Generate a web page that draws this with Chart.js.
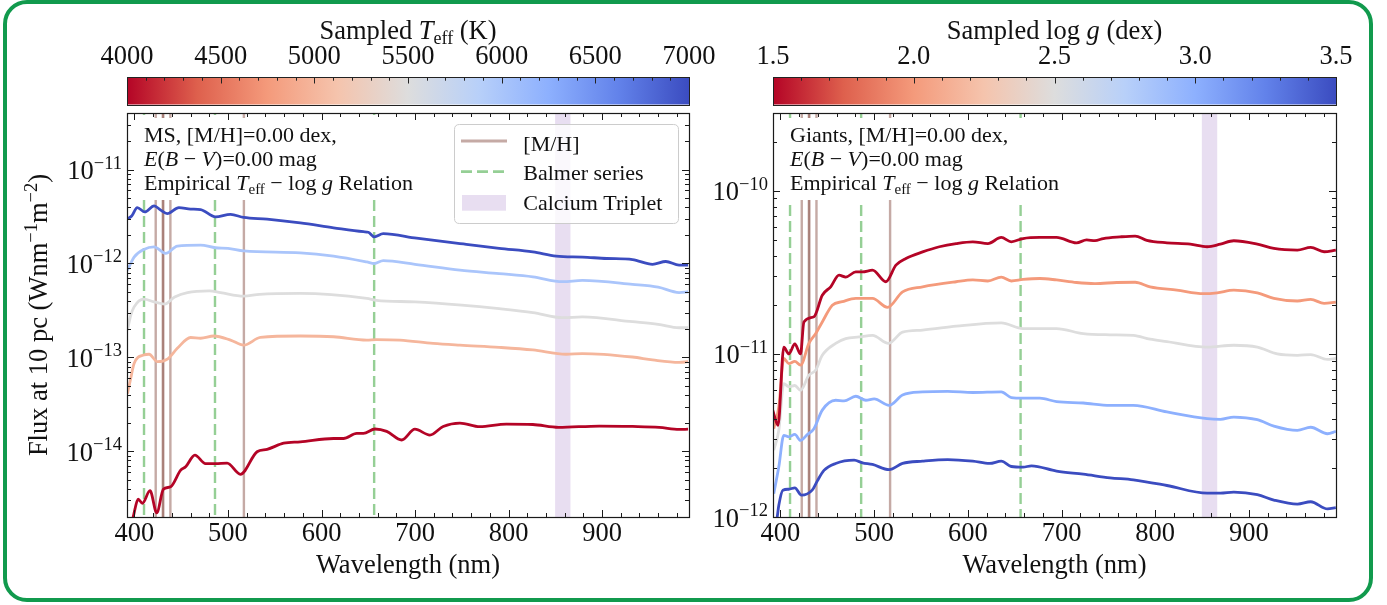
<!DOCTYPE html>
<html>
<head>
<meta charset="utf-8">
<script src="https://cdn.jsdelivr.net/npm/chart.js@4.4.1/dist/chart.umd.min.js"></script>
<style>
  html, body { margin: 0; padding: 0; background: #ffffff; }
  #fig { position: relative; width: 1387px; height: 605px; overflow: hidden; background: #ffffff; }
  #fig canvas { position: absolute; left: 0; top: 0; }
  #frame { position: absolute; left: 3px; top: 0; width: 1370px; height: 602px; box-sizing: border-box;
           border: 4px solid #119a4d; border-radius: 24px; pointer-events: none; }
</style>
</head>
<body>
<div id="fig">
  <canvas id="msChart" width="1387" height="605"></canvas>
  <canvas id="giantChart" width="1387" height="605"></canvas>
  <div id="frame"></div>
</div>
<script>
// ---------------------------------------------------------------
// Data
// ---------------------------------------------------------------
const wavelengthRange = [392, 993];
const wavelengthTicks = [400, 500, 600, 700, 800, 900];

// spectral feature markers (nm)
const metalLines = [422.7, 430.3, 430.8, 438.4, 517.0];
const balmerLines = [410.2, 486.1, 656.3];
const caTriplet = [849.8, 866.2];

// main-sequence panel: effective temperature of each spectrum (K)
const msTeff = [7000, 6000, 5500, 5000, 4000];
const teffTicks = [4000, 4500, 5000, 5500, 6000, 6500, 7000];
const msFluxRange = [2e-15, 4e-11];

// [wavelength (nm), flux (W nm^-1 m^-2)]
const msT7000 = [[392.5,3.0e-12],[397,3.2e-12],[403,3.94e-12],[411,3.54e-12],[421,4.1e-12],[428,3.7e-12],[435,3.4e-12],[447.5,3.94e-12],[460,3.8e-12],[470.7,3.75e-12],[486.7,3.13e-12],[502.7,3.34e-12],[516.8,3.09e-12],[541.8,2.96e-12],[577.3,2.7e-12],[612.9,2.4e-12],[644.8,2.18e-12],[650,2.15e-12],[656.5,1.92e-12],[666,2.08e-12],[701.7,1.86e-12],[748,1.63e-12],[754.8,1.6e-12],[790,1.45e-12],[826,1.33e-12],[851,1.2e-12],[879.3,1.17e-12],[905,1.13e-12],[932.6,1.1e-12],[954,0.98e-12],[968.2,1.05e-12],[982.4,0.96e-12],[992,0.96e-12]];
const msT6000 = [[392.5,8.5e-13],[396,1.0e-12],[399.6,1.17e-12],[410,1.41e-12],[421,1.5e-12],[433.4,1.28e-12],[445.8,1.53e-12],[470.7,1.57e-12],[486.7,1.47e-12],[500,1.45e-12],[516.8,1.36e-12],[577.3,1.3e-12],[612.9,1.2e-12],[648.4,1.04e-12],[656.5,1.0e-12],[666,1.07e-12],[700,0.98e-12],[748,8.5e-13],[790,7.8e-13],[826,7.2e-13],[858,6.4e-13],[879,6.6e-13],[932.6,6.0e-13],[960,5.6e-13],[982.4,4.9e-13],[992,5.0e-13]];
const msT5500 = [[392.5,1.95e-13],[396,2.8e-13],[399.6,3.45e-13],[410,4.17e-13],[421,3.9e-13],[432.3,3.69e-13],[443,4.4e-13],[456.7,4.9e-13],[480,5.1e-13],[492,4.9e-13],[516.8,4.5e-13],[533.8,4.7e-13],[577.3,4.8e-13],[648.4,4.24e-13],[658.8,4.05e-13],[700,3.9e-13],[750,3.6e-13],[790,3.3e-13],[826,3.0e-13],[858,2.65e-13],[879,2.7e-13],[932.6,2.4e-13],[960,2.25e-13],[982.4,2.07e-13],[992,2.07e-13]];
const msT5000 = [[392.5,4.1e-14],[396,6.0e-14],[399.6,8.6e-14],[410,1.06e-13],[415.6,1.08e-13],[424.5,9.0e-14],[435.2,9.6e-14],[445.8,1.25e-13],[460,1.63e-13],[470.7,1.6e-13],[484.9,1.69e-13],[502.7,1.53e-13],[516.8,1.35e-13],[534.6,1.63e-13],[577.3,1.69e-13],[612.9,1.66e-13],[648.4,1.53e-13],[658.8,1.55e-13],[683.9,1.53e-13],[719.4,1.41e-13],[748,1.35e-13],[790,1.28e-13],[826,1.2e-13],[861.6,1.08e-13],[879,1.1e-13],[932.6,1.01e-13],[954,9.4e-14],[982.4,8.85e-14],[992,9.0e-14]];
const msT4000 = [[392.5,1.2e-15],[398.6,2.0e-15],[403.9,3.09e-15],[408.5,2.8e-15],[416.6,3.81e-15],[423.8,2.22e-15],[430.9,3.94e-15],[438.7,4.2e-15],[449.4,6.3e-15],[454.7,6.85e-15],[464.6,9.1e-15],[476,7.4e-15],[486.7,7.4e-15],[499.1,7.5e-15],[513.3,5.7e-15],[531.1,9.9e-15],[541.8,1.05e-14],[559.5,1.22e-14],[577.3,1.26e-14],[612.9,1.37e-14],[623.5,1.37e-14],[637.7,1.55e-14],[644.8,1.55e-14],[657.2,1.73e-14],[669.7,1.63e-14],[685.7,1.32e-14],[699.9,1.72e-14],[715.9,1.49e-14],[730.1,1.84e-14],[748,2.0e-14],[769.2,1.83e-14],[797.7,1.95e-14],[826,1.93e-14],[853.6,1.8e-14],[897.1,1.86e-14],[932.6,1.84e-14],[961.1,1.8e-14],[982.4,1.71e-14],[992,1.72e-14]];

// giant panel: surface gravity of each spectrum (dex)
const giantLogg = [1.5, 2.0, 2.5, 3.0, 3.5];
const loggTicks = [1.5, 2.0, 2.5, 3.0, 3.5];
const giantFluxRange = [1e-12, 3e-10];

const gLogg15 = [[391.7,4.52e-12],[397.4,3.65e-12],[403.5,1.1e-11],[408.9,1.0e-11],[415.3,1.15e-11],[421.4,1.0e-11],[425,1.57e-11],[435.7,1.69e-11],[444.6,2.29e-11],[453.6,2.58e-11],[462.5,3.04e-11],[469.6,2.96e-11],[480.4,3.18e-11],[487.5,3.18e-11],[498.2,3.26e-11],[512.5,2.77e-11],[523.2,3.5e-11],[533.9,3.85e-11],[551.7,4.22e-11],[569.6,4.54e-11],[587.5,4.75e-11],[605.3,4.87e-11],[621.4,4.75e-11],[635.7,5.18e-11],[646.4,4.87e-11],[658.9,5.1e-11],[676.8,5.18e-11],[694.7,5.18e-11],[716,4.8e-11],[726.8,5.0e-11],[735.7,4.95e-11],[744.6,5.1e-11],[762.5,5.22e-11],[778.6,5.28e-11],[791,4.97e-11],[812.5,4.8e-11],[837.5,4.71e-11],[855.4,4.54e-11],[869.6,4.71e-11],[883.9,4.94e-11],[909,4.71e-11],[926.7,4.43e-11],[951.8,4.33e-11],[966,4.5e-11],[980.3,4.23e-11],[992.8,4.33e-11]];
const gLogg20 = [[392.8,3.48e-12],[398.2,4.73e-12],[403.5,9.37e-12],[408.9,8.73e-12],[415.3,9.0e-12],[421.4,8.53e-12],[430.3,1.16e-11],[437.5,1.33e-11],[444.6,1.57e-11],[455.3,1.99e-11],[466,2.09e-11],[480.4,2.19e-11],[498.2,2.19e-11],[514.2,1.93e-11],[530.3,2.4e-11],[551.7,2.58e-11],[587.5,2.77e-11],[605.3,2.84e-11],[621.4,2.8e-11],[635.7,2.96e-11],[646.4,2.8e-11],[658.9,2.86e-11],[676.8,2.9e-11],[694.7,2.84e-11],[716,2.74e-11],[735.7,2.7e-11],[759,2.74e-11],[778.6,2.75e-11],[794.5,2.58e-11],[823.1,2.46e-11],[851.7,2.34e-11],[866.1,2.37e-11],[883.9,2.46e-11],[909,2.37e-11],[926.7,2.19e-11],[951.8,2.11e-11],[966,2.16e-11],[980.3,2.04e-11],[992.8,2.08e-11]];
const gLogg25 = [[392.8,2.57e-12],[398.2,3.4e-12],[403.5,6.58e-12],[408.9,6.3e-12],[415.3,6.4e-12],[421.4,5.98e-12],[430.3,7.41e-12],[437.5,7.94e-12],[444.6,9.8e-12],[458.9,1.16e-11],[469.6,1.24e-11],[483.9,1.27e-11],[498.2,1.3e-11],[515.3,1.16e-11],[530.3,1.36e-11],[551.7,1.4e-11],[587.5,1.48e-11],[635.7,1.55e-11],[658.9,1.43e-11],[694.7,1.43e-11],[723.2,1.33e-11],[751.8,1.31e-11],[776.7,1.3e-11],[794.5,1.23e-11],[812.5,1.19e-11],[855.4,1.1e-11],[883.9,1.13e-11],[909,1.1e-11],[930.3,1.0e-11],[951.8,9.8e-12],[966,9.9e-12],[983.9,9.25e-12],[992.8,9.4e-12]];
const gLogg30 = [[392.8,1.39e-12],[398.2,2.03e-12],[403.5,3.17e-12],[408.9,3.1e-12],[415.3,3.21e-12],[421.4,2.95e-12],[428.6,3.2e-12],[435.7,3.48e-12],[444.6,4.52e-12],[458.9,5.2e-12],[467.9,5.15e-12],[480.4,5.5e-12],[491.1,5.2e-12],[500,5.3e-12],[516,4.84e-12],[530.3,5.6e-12],[551.7,5.85e-12],[578.5,5.9e-12],[605.3,5.8e-12],[635.7,5.85e-12],[646.4,5.4e-12],[658.9,5.35e-12],[676.8,5.35e-12],[694.7,5.1e-12],[723.2,5.0e-12],[751.8,4.84e-12],[776.7,4.84e-12],[812.5,4.41e-12],[855.4,4.01e-12],[869.6,3.97e-12],[883.9,4.1e-12],[909,3.95e-12],[926.7,3.61e-12],[951.8,3.4e-12],[966,3.55e-12],[983.9,3.24e-12],[992.8,3.35e-12]];
const gLogg35 = [[394,8.0e-13],[396.5,1.0e-12],[398.2,1.18e-12],[402.5,1.46e-12],[408.9,1.48e-12],[415.3,1.51e-12],[422.4,1.36e-12],[433.8,1.46e-12],[439.2,1.66e-12],[446.4,1.93e-12],[458.9,2.13e-12],[478.6,2.23e-12],[487.5,2.15e-12],[498.2,2.1e-12],[516,1.95e-12],[530.3,2.13e-12],[551.7,2.2e-12],[578.5,2.25e-12],[605.3,2.2e-12],[623.2,2.13e-12],[635.7,2.2e-12],[646.4,2.04e-12],[658.9,2.02e-12],[667.9,2.06e-12],[694.7,1.91e-12],[723.2,1.83e-12],[751.8,1.74e-12],[776.7,1.69e-12],[812.5,1.56e-12],[855.4,1.4e-12],[869.6,1.4e-12],[883.9,1.42e-12],[909,1.37e-12],[926.7,1.27e-12],[951.8,1.2e-12],[966,1.24e-12],[983.9,1.12e-12],[992.8,1.14e-12]];

// ---------------------------------------------------------------
// Styling helpers
// ---------------------------------------------------------------
const FONT = '"Liberation Serif", "Times New Roman", serif';
const INK = '#111111';
Chart.defaults.font.family = FONT;
Chart.defaults.color = INK;

const AXIS_FS = 26.5;
const SCRIPT_FS = 18.5;
const SMALL_FS = 22;

// matplotlib "coolwarm" anchor colours (blue -> red)
const coolwarm = [
  [0.0, [59, 76, 192]], [0.125, [98, 130, 234]], [0.25, [141, 176, 254]],
  [0.375, [184, 208, 249]], [0.5, [221, 221, 221]], [0.625, [245, 196, 173]],
  [0.75, [244, 154, 123]], [0.875, [222, 96, 77]], [1.0, [180, 4, 38]]
];
// reversed map: low values red, high values blue
function coolwarmR(f) {
  const t = 1 - Math.min(1, Math.max(0, f));
  for (let i = 1; i < coolwarm.length; i++) {
    const [t0, c0] = coolwarm[i - 1];
    const [t1, c1] = coolwarm[i];
    if (t <= t1 + 1e-9) {
      const w = (t - t0) / (t1 - t0);
      return 'rgb(' + c0.map((c, k) => Math.round(c + (c1[k] - c) * w)).join(',') + ')';
    }
  }
  return 'rgb(180,4,38)';
}

const METAL_COLOR = 'rgba(140, 86, 75, 0.5)';
const BALMER_COLOR = 'rgba(44, 160, 44, 0.5)';
const CA_COLOR = 'rgba(148, 103, 189, 0.22)';
const BALMER_DASH = [11, 5];

function fontOf(seg, base) {
  return (seg.it ? 'italic ' : '') + (seg.size || base) + 'px ' + FONT;
}
function richWidth(ctx, segs, base) {
  let w = 0;
  for (const s of segs) { ctx.font = fontOf(s, base); w += ctx.measureText(s.t).width; }
  return w;
}
function drawRich(ctx, segs, x, y, base, align) {
  const w = richWidth(ctx, segs, base);
  let cx = align === 'center' ? x - w / 2 : (align === 'right' ? x - w : x);
  ctx.textAlign = 'left';
  ctx.textBaseline = 'alphabetic';
  for (const s of segs) {
    ctx.font = fontOf(s, base);
    ctx.fillText(s.t, cx, y + (s.dy || 0));
    cx += ctx.measureText(s.t).width;
  }
}
function roundRect(ctx, x, y, w, h, r) {
  ctx.beginPath();
  ctx.moveTo(x + r, y);
  ctx.lineTo(x + w - r, y); ctx.quadraticCurveTo(x + w, y, x + w, y + r);
  ctx.lineTo(x + w, y + h - r); ctx.quadraticCurveTo(x + w, y + h, x + w - r, y + h);
  ctx.lineTo(x + r, y + h); ctx.quadraticCurveTo(x, y + h, x, y + h - r);
  ctx.lineTo(x, y + r); ctx.quadraticCurveTo(x, y, x + r, y);
  ctx.closePath();
}
const crisp = v => Math.round(v) + 0.5;

// ---------------------------------------------------------------
// One panel: spectra, feature markers, colour bar, annotations
// ---------------------------------------------------------------
function makePanel(canvasId, p) {
  const W = 1387, H = 605;
  const plotTop = 113, plotBottom = 517;

  const datasets = [];
  p.curves.forEach((c) => {
    datasets.push({
      data: c.data.map(([x, y]) => ({ x, y })),
      borderColor: coolwarmR((c.value - p.cbMin) / (p.cbMax - p.cbMin)),
      borderWidth: 2.8,
      pointRadius: 0,
      cubicInterpolationMode: 'monotone',
      clip: 0,
      order: 0,
      xAxisID: 'x', yAxisID: 'y'
    });
  });
  const vline = (wl, color, dash) => ({
    data: [{ x: wl, y: p.yRange[0] / 10 }, { x: wl, y: p.yRange[1] * 10 }],
    borderColor: color, borderWidth: 2.4, borderDash: dash || [],
    pointRadius: 0, clip: 0, order: 1, xAxisID: 'x', yAxisID: 'y'
  });
  metalLines.forEach(wl => datasets.push(vline(wl, METAL_COLOR)));
  balmerLines.forEach(wl => datasets.push(vline(wl, BALMER_COLOR, BALMER_DASH)));

  const panelPlugin = {
    id: 'panelDecor',
    beforeDatasetsDraw(chart) {
      const { ctx, chartArea: a, scales } = chart;
      const x0 = scales.x.getPixelForValue(caTriplet[0]);
      const x1 = scales.x.getPixelForValue(caTriplet[1]);
      ctx.save();
      ctx.fillStyle = CA_COLOR;
      ctx.fillRect(x0, a.top, x1 - x0, a.bottom - a.top);
      ctx.restore();
    },
    afterDatasetsDraw(chart) {
      const { ctx, chartArea: a, scales } = chart;
      const xs = scales.x, ys = scales.y, cb = scales.cb;
      ctx.save();

      // annotation block with opaque background
      ctx.fillStyle = '#ffffff';
      ctx.fillRect(a.left + 10, a.top + 5, p.boxWidth, 82);
      ctx.fillStyle = INK;
      const tx = a.left + 17;
      drawRich(ctx, [{ t: p.sampleName + ', [M/H]=0.00 dex,' }], tx, a.top + 28.7, SMALL_FS, 'left');
      drawRich(ctx, [{ t: 'E', it: true }, { t: '(' }, { t: 'B', it: true }, { t: ' − ' },
                     { t: 'V', it: true }, { t: ')=0.00 mag' }], tx, a.top + 53, SMALL_FS, 'left');
      drawRich(ctx, [{ t: 'Empirical ' }, { t: 'T', it: true }, { t: 'eff', size: 15, dy: 3.5 },
                     { t: ' − log ' }, { t: 'g', it: true }, { t: ' Relation' }], tx, a.top + 77.3, SMALL_FS, 'left');

      // legend
      if (p.legend) {
        const lx = a.right - 235, ly = a.top + 11, lw = 224, lh = 99;
        roundRect(ctx, lx + 0.5, ly + 0.5, lw, lh, 5);
        ctx.fillStyle = 'rgba(255,255,255,0.8)';
        ctx.fill();
        ctx.strokeStyle = '#cccccc'; ctx.lineWidth = 1; ctx.stroke();

        ctx.lineWidth = 2.8;
        ctx.strokeStyle = METAL_COLOR;
        ctx.beginPath(); ctx.moveTo(lx + 7, ly + 17); ctx.lineTo(lx + 53, ly + 17); ctx.stroke();
        ctx.strokeStyle = BALMER_COLOR; ctx.setLineDash(BALMER_DASH);
        ctx.beginPath(); ctx.moveTo(lx + 7, ly + 47.7); ctx.lineTo(lx + 53, ly + 47.7); ctx.stroke();
        ctx.setLineDash([]);
        ctx.fillStyle = CA_COLOR;
        ctx.fillRect(lx + 8, ly + 71, 44, 15.7);

        ctx.fillStyle = INK;
        drawRich(ctx, [{ t: '[M/H]' }], lx + 69.3, ly + 26.7, SMALL_FS, 'left');
        drawRich(ctx, [{ t: 'Balmer series' }], lx + 69.3, ly + 56, SMALL_FS, 'left');
        drawRich(ctx, [{ t: 'Calcium Triplet' }], lx + 69.3, ly + 86, SMALL_FS, 'left');
      }

      // axes frame
      ctx.strokeStyle = '#1a1a1a'; ctx.lineWidth = 1.2;
      ctx.strokeRect(crisp(a.left) , crisp(a.top), Math.round(a.right - a.left), Math.round(a.bottom - a.top));

      // inward tick marks on all four sides
      ctx.lineWidth = 1; ctx.strokeStyle = '#1a1a1a';
      ctx.beginPath();
      const xTick = (v, len) => {
        const px = crisp(xs.getPixelForValue(v));
        ctx.moveTo(px, a.bottom); ctx.lineTo(px, a.bottom - len);
        ctx.moveTo(px, a.top); ctx.lineTo(px, a.top + len);
      };
      const yTick = (v, len) => {
        const py = crisp(ys.getPixelForValue(v));
        ctx.moveTo(a.left, py); ctx.lineTo(a.left + len, py);
        ctx.moveTo(a.right, py); ctx.lineTo(a.right - len, py);
      };
      for (let v = 400; v <= wavelengthRange[1]; v += 20) xTick(v, v % 100 === 0 ? 7 : 4);
      const eLo = Math.floor(Math.log10(p.yRange[0])), eHi = Math.ceil(Math.log10(p.yRange[1]));
      for (let e = eLo; e <= eHi; e++) {
        for (let m = 1; m <= 9; m++) {
          const v = m * Math.pow(10, e);
          if (v < p.yRange[0] * 0.999 || v > p.yRange[1] * 1.001) continue;
          yTick(v, m === 1 ? 7 : 4);
        }
      }
      ctx.stroke();

      // decade labels on the flux axis
      ctx.fillStyle = INK;
      for (let e = eLo; e <= eHi; e++) {
        const v = Math.pow(10, e);
        if (v < p.yRange[0] * 0.999 || v > p.yRange[1] * 1.001) continue;
        const py = ys.getPixelForValue(v);
        drawRich(ctx, [{ t: '10', dy: 9.5 }, { t: '−' + Math.abs(e), size: SCRIPT_FS, dy: -1 }],
                 a.left - 5, py, AXIS_FS, 'right');
      }

      // flux axis title
      if (p.yTitle) {
        ctx.save();
        ctx.translate(47, (a.top + a.bottom) / 2);
        ctx.rotate(-Math.PI / 2);
        drawRich(ctx, [{ t: 'Flux at 10 pc (Wnm' }, { t: '−1', size: SCRIPT_FS, dy: -10 }, { t: 'm' },
                       { t: '−2', size: SCRIPT_FS, dy: -10 }, { t: ')' }], 0, 0, AXIS_FS, 'center');
        ctx.restore();
      }

      // colour bar
      const cbTop = a.top - 36, cbH = 27.5;
      const grad = ctx.createLinearGradient(cb.left, 0, cb.right, 0);
      coolwarm.forEach(([t, c]) => grad.addColorStop(1 - t, 'rgb(' + c.join(',') + ')'));
      ctx.fillStyle = grad;
      ctx.fillRect(cb.left, cbTop, cb.right - cb.left, cbH);
      ctx.strokeStyle = '#222222'; ctx.lineWidth = 1;
      ctx.strokeRect(crisp(cb.left), crisp(cbTop), Math.round(cb.right - cb.left), Math.round(cbH));
      ctx.beginPath();
      const nMinor = Math.round((p.cbMax - p.cbMin) / p.cbMinorStep);
      for (let i = 0; i <= nMinor; i++) {
        const v = p.cbMin + i * p.cbMinorStep;
        const px = crisp(cb.getPixelForValue(v));
        const major = i % p.cbMajorEvery === 0;
        ctx.moveTo(px, cbTop); ctx.lineTo(px, cbTop + (major ? 6.5 : 3.7));
      }
      ctx.stroke();

      // colour bar title
      ctx.fillStyle = INK;
      drawRich(ctx, p.cbTitle, (cb.left + cb.right) / 2, 39, AXIS_FS, 'center');

      ctx.restore();
    }
  };

  return new Chart(document.getElementById(canvasId), {
    type: 'line',
    data: { datasets },
    plugins: [panelPlugin],
    options: {
      responsive: false,
      animation: false,
      devicePixelRatio: 1,
      events: [],
      layout: { padding: { left: 0, top: 0, bottom: 0, right: W - p.plotRight } },
      plugins: { legend: { display: false }, tooltip: { enabled: false } },
      scales: {
        x: {
          type: 'linear', position: 'bottom', axis: 'x',
          min: wavelengthRange[0], max: wavelengthRange[1],
          afterBuildTicks: s => { s.ticks = wavelengthTicks.map(v => ({ value: v })); },
          afterFit: s => { s.height = H - plotBottom; },
          ticks: { font: { size: AXIS_FS }, padding: 1, maxRotation: 0, autoSkip: false, color: INK,
                   callback: v => String(v) },
          grid: { display: false, drawTicks: false },
          border: { display: false },
          title: { display: true, text: 'Wavelength (nm)', font: { size: AXIS_FS }, color: INK,
                   padding: { top: 0, bottom: 23 } }
        },
        y: {
          type: 'logarithmic', position: 'left', axis: 'y',
          min: p.yRange[0], max: p.yRange[1],
          afterFit: s => { s.width = p.plotLeft; },
          ticks: { display: false },
          grid: { display: false, drawTicks: false },
          border: { display: false }
        },
        cb: {
          type: 'linear', position: 'top', axis: 'x',
          min: p.cbMin, max: p.cbMax,
          afterBuildTicks: s => { s.ticks = p.cbTicks.map(v => ({ value: v })); },
          afterFit: s => { s.height = plotTop; },
          ticks: { font: { size: AXIS_FS }, padding: 4, maxRotation: 0, autoSkip: false, color: INK,
                   callback: p.cbFormat },
          grid: { display: true, drawOnChartArea: false, drawTicks: true, tickLength: 36,
                  color: 'rgba(0,0,0,0)' },
          border: { display: false }
        }
      }
    }
  });
}

makePanel('msChart', {
  sampleName: 'MS',
  curves: [msT7000, msT6000, msT5500, msT5000, msT4000].map((d, i) => ({ data: d, value: msTeff[i] })),
  yRange: msFluxRange,
  plotLeft: 127, plotRight: 689,
  cbMin: teffTicks[0], cbMax: teffTicks[teffTicks.length - 1],
  cbTicks: teffTicks, cbMinorStep: 100, cbMajorEvery: 5,
  cbFormat: v => String(v),
  cbTitle: [{ t: 'Sampled ' }, { t: 'T', it: true }, { t: 'eff', size: 18, dy: 5 }, { t: ' (K)' }],
  boxWidth: 291,
  legend: true,
  yTitle: true
});

makePanel('giantChart', {
  sampleName: 'Giants',
  curves: [gLogg15, gLogg20, gLogg25, gLogg30, gLogg35].map((d, i) => ({ data: d, value: giantLogg[i] })),
  yRange: giantFluxRange,
  plotLeft: 773, plotRight: 1336,
  cbMin: loggTicks[0], cbMax: loggTicks[loggTicks.length - 1],
  cbTicks: loggTicks, cbMinorStep: 0.1, cbMajorEvery: 5,
  cbFormat: v => Number(v).toFixed(1),
  cbTitle: [{ t: 'Sampled log ' }, { t: 'g', it: true }, { t: ' (dex)' }],
  boxWidth: 292,
  legend: false,
  yTitle: false
});
</script>
</body>
</html>
